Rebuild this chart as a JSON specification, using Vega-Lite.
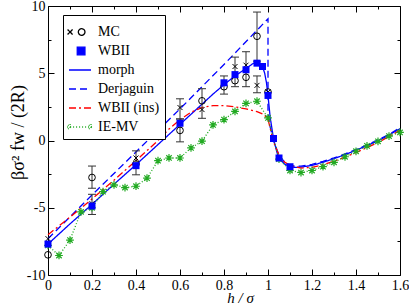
{
  "$schema": "https://vega.github.io/schema/vega-lite/v6.json",
  "width": 352,
  "height": 269,
  "autosize": "none",
  "padding": {"left": 48, "top": 6, "right": 9, "bottom": 29},
  "background": "white",
  "config": {
    "view": {"stroke": "black", "strokeWidth": 1},
    "font": "Liberation Serif",
    "axis": {
      "labelFont": "Liberation Serif", "titleFont": "Liberation Serif",
      "labelColor": "black", "titleColor": "black", "tickColor": "black",
      "grid": false, "domain": false, "labelFontSize": 14, "titleFontSize": 16,
      "titleFontWeight": "normal", "labelFlush": false, "labelOverlap": false
    }
  },
  "datasets": {
    "lines": [
      {"series": "morph", "i": 1, "h": 0, "v": -7.7},
      {"series": "morph", "i": 2, "h": 0.1, "v": -6.2},
      {"series": "morph", "i": 3, "h": 0.2, "v": -4.75},
      {"series": "morph", "i": 4, "h": 0.3, "v": -3.25},
      {"series": "morph", "i": 5, "h": 0.4, "v": -1.8},
      {"series": "morph", "i": 6, "h": 0.5, "v": -0.3},
      {"series": "morph", "i": 7, "h": 0.6, "v": 1.2},
      {"series": "morph", "i": 8, "h": 0.7, "v": 2.7},
      {"series": "morph", "i": 9, "h": 0.75, "v": 3.45},
      {"series": "morph", "i": 10, "h": 0.8, "v": 4.15},
      {"series": "morph", "i": 11, "h": 0.85, "v": 4.8},
      {"series": "morph", "i": 12, "h": 0.9, "v": 5.35},
      {"series": "morph", "i": 13, "h": 0.93, "v": 5.7},
      {"series": "morph", "i": 14, "h": 0.95, "v": 5.85},
      {"series": "morph", "i": 15, "h": 0.965, "v": 5.75},
      {"series": "morph", "i": 16, "h": 0.975, "v": 5.5},
      {"series": "morph", "i": 17, "h": 0.985, "v": 5.0},
      {"series": "morph", "i": 18, "h": 0.993, "v": 4.3},
      {"series": "morph", "i": 19, "h": 1.0, "v": 3.35},
      {"series": "morph", "i": 20, "h": 1.01, "v": 1.7},
      {"series": "morph", "i": 21, "h": 1.025, "v": 0.15},
      {"series": "morph", "i": 22, "h": 1.04, "v": -0.85},
      {"series": "morph", "i": 23, "h": 1.05, "v": -1.3},
      {"series": "morph", "i": 24, "h": 1.075, "v": -1.75},
      {"series": "morph", "i": 25, "h": 1.1, "v": -1.95},
      {"series": "morph", "i": 26, "h": 1.125, "v": -2.0},
      {"series": "morph", "i": 27, "h": 1.15, "v": -1.98},
      {"series": "morph", "i": 28, "h": 1.2, "v": -1.85},
      {"series": "morph", "i": 29, "h": 1.25, "v": -1.62},
      {"series": "morph", "i": 30, "h": 1.3, "v": -1.35},
      {"series": "morph", "i": 31, "h": 1.35, "v": -1.05},
      {"series": "morph", "i": 32, "h": 1.4, "v": -0.72},
      {"series": "morph", "i": 33, "h": 1.45, "v": -0.38},
      {"series": "morph", "i": 34, "h": 1.5, "v": -0.02},
      {"series": "morph", "i": 35, "h": 1.55, "v": 0.4},
      {"series": "morph", "i": 36, "h": 1.6, "v": 0.88},
      {"series": "Derjaguin", "i": 1, "h": 0, "v": -7.3},
      {"series": "Derjaguin", "i": 2, "h": 0.2, "v": -4.05},
      {"series": "Derjaguin", "i": 3, "h": 0.4, "v": -0.85},
      {"series": "Derjaguin", "i": 4, "h": 0.6, "v": 2.35},
      {"series": "Derjaguin", "i": 5, "h": 0.8, "v": 5.65},
      {"series": "Derjaguin", "i": 6, "h": 1.0, "v": 9.05},
      {"series": "Derjaguin", "i": 7, "h": 1.0, "v": 2.0},
      {"series": "Derjaguin", "i": 8, "h": 1.01, "v": 1.0},
      {"series": "Derjaguin", "i": 9, "h": 1.025, "v": 0.0},
      {"series": "Derjaguin", "i": 10, "h": 1.05, "v": -1.1},
      {"series": "Derjaguin", "i": 11, "h": 1.075, "v": -1.6},
      {"series": "Derjaguin", "i": 12, "h": 1.1, "v": -1.85},
      {"series": "Derjaguin", "i": 13, "h": 1.125, "v": -1.92},
      {"series": "Derjaguin", "i": 14, "h": 1.15, "v": -1.9},
      {"series": "Derjaguin", "i": 15, "h": 1.2, "v": -1.78},
      {"series": "Derjaguin", "i": 16, "h": 1.25, "v": -1.55},
      {"series": "Derjaguin", "i": 17, "h": 1.3, "v": -1.3},
      {"series": "Derjaguin", "i": 18, "h": 1.35, "v": -1.0},
      {"series": "Derjaguin", "i": 19, "h": 1.4, "v": -0.68},
      {"series": "Derjaguin", "i": 20, "h": 1.45, "v": -0.33},
      {"series": "Derjaguin", "i": 21, "h": 1.5, "v": 0.05},
      {"series": "Derjaguin", "i": 22, "h": 1.55, "v": 0.45},
      {"series": "Derjaguin", "i": 23, "h": 1.6, "v": 0.95},
      {"series": "WBII (ins)", "i": 1, "h": 0, "v": -7.0},
      {"series": "WBII (ins)", "i": 2, "h": 0.1, "v": -5.7},
      {"series": "WBII (ins)", "i": 3, "h": 0.2, "v": -4.35},
      {"series": "WBII (ins)", "i": 4, "h": 0.3, "v": -2.95},
      {"series": "WBII (ins)", "i": 5, "h": 0.4, "v": -1.5},
      {"series": "WBII (ins)", "i": 6, "h": 0.5, "v": 0.0},
      {"series": "WBII (ins)", "i": 7, "h": 0.55, "v": 0.85},
      {"series": "WBII (ins)", "i": 8, "h": 0.6, "v": 1.55},
      {"series": "WBII (ins)", "i": 9, "h": 0.65, "v": 2.1},
      {"series": "WBII (ins)", "i": 10, "h": 0.7, "v": 2.45},
      {"series": "WBII (ins)", "i": 11, "h": 0.75, "v": 2.6},
      {"series": "WBII (ins)", "i": 12, "h": 0.8, "v": 2.6},
      {"series": "WBII (ins)", "i": 13, "h": 0.85, "v": 2.5},
      {"series": "WBII (ins)", "i": 14, "h": 0.9, "v": 2.35},
      {"series": "WBII (ins)", "i": 15, "h": 0.95, "v": 2.15},
      {"series": "WBII (ins)", "i": 16, "h": 0.98, "v": 1.95},
      {"series": "WBII (ins)", "i": 17, "h": 1.0, "v": 1.6},
      {"series": "WBII (ins)", "i": 18, "h": 1.01, "v": 0.9},
      {"series": "WBII (ins)", "i": 19, "h": 1.025, "v": -0.1},
      {"series": "WBII (ins)", "i": 20, "h": 1.05, "v": -1.1},
      {"series": "WBII (ins)", "i": 21, "h": 1.075, "v": -1.6},
      {"series": "WBII (ins)", "i": 22, "h": 1.1, "v": -1.85},
      {"series": "WBII (ins)", "i": 23, "h": 1.15, "v": -2.05},
      {"series": "WBII (ins)", "i": 24, "h": 1.2, "v": -2.0},
      {"series": "WBII (ins)", "i": 25, "h": 1.25, "v": -1.8},
      {"series": "WBII (ins)", "i": 26, "h": 1.3, "v": -1.55},
      {"series": "WBII (ins)", "i": 27, "h": 1.4, "v": -0.9},
      {"series": "WBII (ins)", "i": 28, "h": 1.5, "v": -0.15},
      {"series": "WBII (ins)", "i": 29, "h": 1.6, "v": 0.75},
      {"series": "IE-MV", "i": 1, "h": 0, "v": -7.8},
      {"series": "IE-MV", "i": 2, "h": 0.05, "v": -8.55},
      {"series": "IE-MV", "i": 3, "h": 0.1, "v": -7.4},
      {"series": "IE-MV", "i": 4, "h": 0.15, "v": -5.3},
      {"series": "IE-MV", "i": 5, "h": 0.2, "v": -5.0},
      {"series": "IE-MV", "i": 6, "h": 0.25, "v": -3.8},
      {"series": "IE-MV", "i": 7, "h": 0.3, "v": -3.3},
      {"series": "IE-MV", "i": 8, "h": 0.35, "v": -3.5},
      {"series": "IE-MV", "i": 9, "h": 0.4, "v": -3.4},
      {"series": "IE-MV", "i": 10, "h": 0.45, "v": -2.8},
      {"series": "IE-MV", "i": 11, "h": 0.5, "v": -1.5},
      {"series": "IE-MV", "i": 12, "h": 0.55, "v": -1.3},
      {"series": "IE-MV", "i": 13, "h": 0.6, "v": -1.3},
      {"series": "IE-MV", "i": 14, "h": 0.65, "v": -0.55},
      {"series": "IE-MV", "i": 15, "h": 0.7, "v": -0.05},
      {"series": "IE-MV", "i": 16, "h": 0.75, "v": 1.16},
      {"series": "IE-MV", "i": 17, "h": 0.8, "v": 1.55},
      {"series": "IE-MV", "i": 18, "h": 0.85, "v": 2.16},
      {"series": "IE-MV", "i": 19, "h": 0.9, "v": 2.76},
      {"series": "IE-MV", "i": 20, "h": 0.95, "v": 2.92},
      {"series": "IE-MV", "i": 21, "h": 1.0, "v": 1.68},
      {"series": "IE-MV", "i": 22, "h": 1.05, "v": -1.38},
      {"series": "IE-MV", "i": 23, "h": 1.1, "v": -2.23},
      {"series": "IE-MV", "i": 24, "h": 1.15, "v": -2.38},
      {"series": "IE-MV", "i": 25, "h": 1.2, "v": -2.23},
      {"series": "IE-MV", "i": 26, "h": 1.25, "v": -1.94},
      {"series": "IE-MV", "i": 27, "h": 1.3, "v": -1.62},
      {"series": "IE-MV", "i": 28, "h": 1.35, "v": -1.21},
      {"series": "IE-MV", "i": 29, "h": 1.4, "v": -0.8},
      {"series": "IE-MV", "i": 30, "h": 1.45, "v": -0.4},
      {"series": "IE-MV", "i": 31, "h": 1.5, "v": -0.06},
      {"series": "IE-MV", "i": 32, "h": 1.55, "v": 0.33},
      {"series": "IE-MV", "i": 33, "h": 1.6, "v": 0.6}
    ],
    "bars": [
      {"h": 0.2, "lo": -3.55, "hi": -1.9},
      {"h": 0.2, "lo": -5.5, "hi": -4.0},
      {"h": 0.4, "lo": -2.55, "hi": -0.77},
      {"h": 0.6, "lo": -0.1, "hi": 1.6},
      {"h": 0.6, "lo": 1.6, "hi": 3.1},
      {"h": 0.7, "lo": 1.65, "hi": 3.85},
      {"h": 0.8, "lo": 3.45, "hi": 4.8},
      {"h": 0.85, "lo": 4.0, "hi": 6.2},
      {"h": 0.9, "lo": 4.0, "hi": 6.6},
      {"h": 0.95, "lo": 5.9, "hi": 9.55},
      {"h": 0.95, "lo": 3.55, "hi": 4.8}
    ],
    "circles": [
      {"h": 0, "v": -8.5}, {"h": 0.2, "v": -2.75}, {"h": 0.4, "v": -1.75},
      {"h": 0.6, "v": 0.75}, {"h": 0.7, "v": 2.95}, {"h": 0.8, "v": 4.0},
      {"h": 0.85, "v": 4.45}, {"h": 0.9, "v": 4.7}, {"h": 0.95, "v": 7.75},
      {"h": 1.0, "v": 3.6}
    ],
    "crosses": [
      {"h": 0, "v": -7.3}, {"h": 0.2, "v": -4.7}, {"h": 0.4, "v": -1.3},
      {"h": 0.6, "v": 2.45}, {"h": 0.7, "v": 2.3}, {"h": 0.8, "v": 4.3},
      {"h": 0.85, "v": 5.5}, {"h": 0.9, "v": 5.6}, {"h": 0.95, "v": 4.1},
      {"h": 1.0, "v": 3.6}
    ],
    "squares": [
      {"h": 0, "v": -7.7}, {"h": 0.2, "v": -4.87}, {"h": 0.4, "v": -1.87},
      {"h": 0.6, "v": 1.28}, {"h": 0.8, "v": 4.29}, {"h": 0.85, "v": 4.9},
      {"h": 0.9, "v": 5.26}, {"h": 0.95, "v": 5.75}, {"h": 0.975, "v": 5.5},
      {"h": 1.0, "v": 3.35}, {"h": 1.025, "v": 0.15}, {"h": 1.05, "v": -1.3},
      {"h": 1.1, "v": -1.95}
    ]
  },
  "resolve": {"axis": {"x": "independent", "y": "independent"}},
  "layer": [
    {
      "data": {"name": "lines"},
      "mark": {"type": "line", "strokeWidth": 1.3},
      "encoding": {
        "x": {"field": "h", "type": "quantitative",
          "scale": {"domain": [0, 1.6], "nice": false, "zero": false},
          "axis": {"orient": "bottom", "values": [0, 0.2, 0.4, 0.6, 0.8, 1, 1.2, 1.4, 1.6],
            "format": "~g", "tickSize": -6, "labelPadding": 9, "title": "h / σ",
            "titleFontStyle": "italic", "titlePadding": -2, "titleFontSize": 15,
            "titleX": 192, "titleAlign": "center"}},
        "y": {"field": "v", "type": "quantitative",
          "scale": {"domain": [-10, 10], "nice": false, "zero": false},
          "axis": {"orient": "left", "values": [-10, -5, 0, 5, 10],
            "labelExpr": "'' + datum.value", "tickSize": -6, "labelPadding": 9,
            "title": "βσ² fw / (2R)", "titlePadding": -1, "titleFontSize": 18,
            "titleY": 126, "titleAlign": "center"}},
        "color": {"field": "series", "type": "nominal",
          "scale": {"domain": ["MC", "WBII", "morph", "Derjaguin", "WBII (ins)", "IE-MV"],
            "range": ["black", "#0000ff", "#0000ff", "#0000ff", "#ff0000", "#22aa22"]},
          "legend": {
            "title": null, "orient": "none", "legendX": 15, "legendY": 9, "padding": 5,
            "strokeColor": "black", "fillColor": "white",
            "labelFont": "Liberation Serif", "labelFontSize": 14, "labelColor": "black",
            "symbolSize": 484, "labelOffset": 6, "rowPadding": -3, "symbolType": "stroke",
            "encode": {
              "symbols": {
                "update": {
                  "shape": {"signal": "datum.value === 'MC' ? 'M-1.13,-0.23L-0.67,0.23M-1.13,0.23L-0.67,-0.23M0.45,0A0.3,0.3,0,1,1,-0.15,0A0.3,0.3,0,1,1,0.45,0' : datum.value === 'WBII' ? 'M-0.25,-0.35H0.45V0.35H-0.25Z' : datum.value === 'IE-MV' ? 'M-0.9,0H1M-1.17,0H-0.63M-0.9,-0.27V0.27M-1.09,-0.19L-0.71,0.19M-1.09,0.19L-0.71,-0.19M0.73,0H1.27M1,-0.27V0.27M0.81,-0.19L1.19,0.19M0.81,0.19L1.19,-0.19' : 'M-1,0H1'"},
                  "fill": {"signal": "datum.value === 'WBII' ? '#0000ff' : 'transparent'"},
                  "stroke": {"signal": "datum.value === 'MC' ? 'black' : datum.value === 'WBII' ? 'transparent' : datum.value === 'WBII (ins)' ? '#ff0000' : datum.value === 'IE-MV' ? '#22aa22' : '#0000ff'"},
                  "strokeDash": {"signal": "datum.value === 'Derjaguin' ? [7,4] : datum.value === 'WBII (ins)' ? [7,3,2,3] : datum.value === 'IE-MV' ? [1,2] : [1,0]"},
                  "strokeWidth": {"value": 1.3},
                  "size": {"value": 484},
                  "opacity": {"value": 1}
                }
              }
            }
          }},
        "strokeDash": {"field": "series", "type": "nominal",
          "scale": {"domain": ["MC", "WBII", "morph", "Derjaguin", "WBII (ins)", "IE-MV"],
            "range": [[1, 0], [1, 0], [1, 0], [7, 4], [7, 3, 2, 3], [1, 2]]},
          "legend": null},
        "order": {"field": "i", "type": "quantitative"}
      }
    },
    {
      "data": {"name": "bars"},
      "mark": {"type": "rule", "color": "#333333", "strokeWidth": 1},
      "encoding": {
        "x": {"field": "h", "type": "quantitative",
          "axis": {"orient": "bottom", "values": [0.1, 0.3, 0.5, 0.7, 0.9, 1.1, 1.3, 1.5],
            "tickSize": -3, "labels": false, "title": null}},
        "y": {"field": "lo", "type": "quantitative",
          "axis": {"orient": "left", "values": [-7.5, -2.5, 2.5, 7.5],
            "tickSize": -3, "labels": false, "title": null}},
        "y2": {"field": "hi"}
      }
    },
    {
      "data": {"name": "bars"},
      "mark": {"type": "point", "shape": "stroke", "size": 64, "color": "#333333", "strokeWidth": 1, "opacity": 1},
      "encoding": {
        "x": {"field": "h", "type": "quantitative",
          "axis": {"orient": "top", "values": [0, 0.2, 0.4, 0.6, 0.8, 1, 1.2, 1.4, 1.6],
            "tickSize": -6, "labels": false, "title": null}},
        "y": {"field": "lo", "type": "quantitative",
          "axis": {"orient": "right", "values": [-10, -5, 0, 5, 10],
            "tickSize": -6, "labels": false, "title": null}}
      }
    },
    {
      "data": {"name": "bars"},
      "mark": {"type": "point", "shape": "stroke", "size": 64, "color": "#333333", "strokeWidth": 1, "opacity": 1},
      "encoding": {
        "x": {"field": "h", "type": "quantitative",
          "axis": {"orient": "top", "values": [0.1, 0.3, 0.5, 0.7, 0.9, 1.1, 1.3, 1.5],
            "tickSize": -3, "labels": false, "title": null}},
        "y": {"field": "hi", "type": "quantitative",
          "axis": {"orient": "right", "values": [-7.5, -2.5, 2.5, 7.5],
            "tickSize": -3, "labels": false, "title": null}}
      }
    },
    {
      "data": {"name": "circles"},
      "mark": {"type": "point", "shape": "circle", "size": 45, "filled": false, "color": "black", "strokeWidth": 1, "opacity": 1},
      "encoding": {
        "x": {"field": "h", "type": "quantitative", "axis": null},
        "y": {"field": "v", "type": "quantitative", "axis": null}
      }
    },
    {
      "data": {"name": "crosses"},
      "mark": {"type": "point", "shape": "M-1,-1L1,1M-1,1L1,-1", "size": 25, "filled": false, "color": "black", "strokeWidth": 1, "opacity": 1},
      "encoding": {
        "x": {"field": "h", "type": "quantitative", "axis": null},
        "y": {"field": "v", "type": "quantitative", "axis": null}
      }
    },
    {
      "data": {"name": "lines"},
      "transform": [{"filter": "datum.series === 'IE-MV'"}],
      "mark": {"type": "point", "shape": "M-1,0H1M0,-1V1M-0.7,-0.7L0.7,0.7M-0.7,0.7L0.7,-0.7", "size": 60, "filled": false, "color": "#22aa22", "strokeWidth": 1.2, "opacity": 1},
      "encoding": {
        "x": {"field": "h", "type": "quantitative", "axis": null},
        "y": {"field": "v", "type": "quantitative", "axis": null}
      }
    },
    {
      "data": {"name": "squares"},
      "mark": {"type": "point", "shape": "square", "size": 49, "filled": true, "color": "#0000ff", "opacity": 1},
      "encoding": {
        "x": {"field": "h", "type": "quantitative", "axis": null},
        "y": {"field": "v", "type": "quantitative", "axis": null}
      }
    }
  ]
}
